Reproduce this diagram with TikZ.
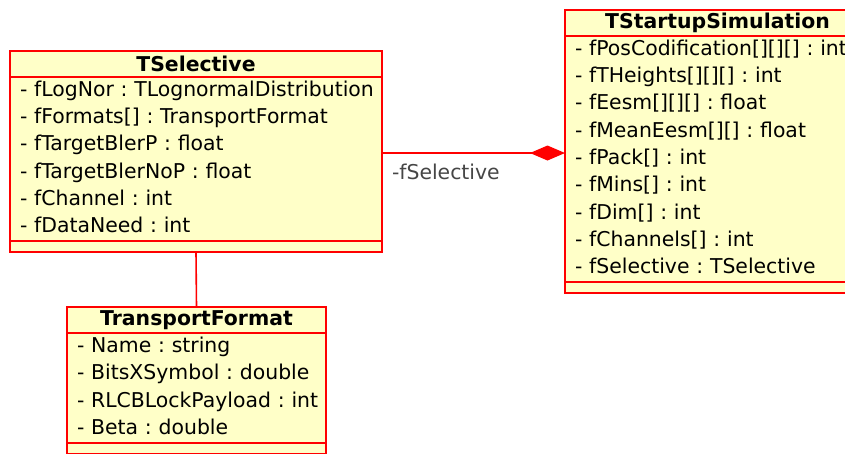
\documentclass[tikz,border=0pt]{standalone}
\usepackage{fontspec}
\setmainfont{DejaVu Sans}
\usetikzlibrary{arrows.meta, positioning}
\definecolor{umlfill}{RGB}{255,255,200}
\definecolor{umlline}{RGB}{255,0,0}
\definecolor{rolegray}{RGB}{70,70,70}
\frenchspacing

\begin{document}
\begin{tikzpicture}[x=1pt, y=-1pt,
  every node/.style={outer sep=0pt, font=\fontsize{20.4}{27.3}\selectfont},
  classname/.style={draw=umlline, fill=umlfill, line width=1.6pt, inner sep=0pt,
    minimum height=26pt, anchor=north west, font=\fontsize{20.4}{27.3}\selectfont\bfseries},
  attrs/.style={draw=umlline, fill=umlfill, line width=1.6pt, inner xsep=10pt,
    inner ysep=0pt, align=left},
  ops/.style={draw=umlline, fill=umlfill, line width=1.6pt, minimum height=11pt, inner sep=0pt},
  link/.style={draw=umlline, line width=1.6pt}
]
  \useasboundingbox (0,0) rectangle (845,453);

  % class TSelective
  \node[classname, minimum width=372pt] (sel) at (10,51) {TSelective};
  \node[attrs, text width=352pt, minimum height=164pt, below=0pt of sel] (selattr)
    {\begin{tabular}{@{}l@{}}
     - fLogNor : TLognormalDistribution\\
     - fFormats[] : TransportFormat\\
     - fTargetBlerP : float\\
     - fTargetBlerNoP : float\\
     - fChannel : int\\
     - fDataNeed : int
     \end{tabular}};
  \node[ops, minimum width=372pt, below=0pt of selattr] (selops) {};

  % class TransportFormat
  \node[classname, minimum width=259pt] (tf) at (67,307) {TransportFormat};
  \node[attrs, text width=239pt, minimum height=110pt, below=0pt of tf] (tfattr)
    {\begin{tabular}{@{}l@{}}
     - Name : string\\
     - BitsXSymbol : double\\
     - RLCBLockPayload : int\\
     - Beta : double
     \end{tabular}};
  \node[ops, minimum width=259pt, below=0pt of tfattr] (tfops) {};

  % class TStartupSimulation
  \node[classname, minimum width=305pt] (sim) at (565,10) {TStartupSimulation};
  \node[attrs, text width=285pt, minimum height=246pt, below=0pt of sim] (simattr)
    {\begin{tabular}{@{}l@{}}
     - fPosCodification[][][] : int\\
     - fTHeights[][][] : int\\
     - fEesm[][][] : float\\
     - fMeanEesm[][] : float\\
     - fPack[] : int\\
     - fMins[] : int\\
     - fDim[] : int\\
     - fChannels[] : int\\
     - fSelective : TSelective
     \end{tabular}};
  \node[ops, minimum width=305pt, below=0pt of simattr] (simops) {};

  % associations
  \draw[link] (selops.south) -- (tf.north);
  \draw[link, -{Diamond[length=35pt, width=15pt]}] ([yshift=6pt]selattr.east) -- ([yshift=6pt]simattr.west)
    node[pos=0, anchor=west, xshift=10pt, yshift=-19pt, inner sep=0pt, text=rolegray] (role) {-fSelective};
\end{tikzpicture}
\end{document}
